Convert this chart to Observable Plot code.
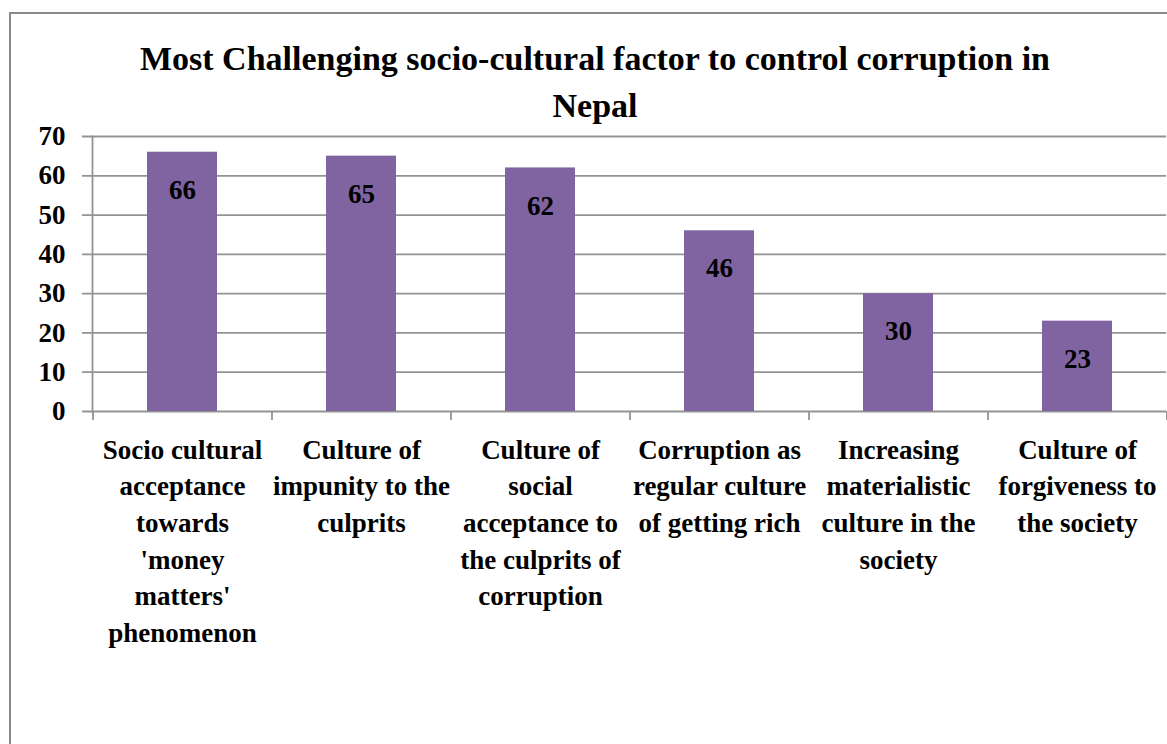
<!DOCTYPE html>
<html>
<head>
<meta charset="utf-8">
<script src="https://cdn.jsdelivr.net/npm/d3@7"></script>
<script src="https://cdn.jsdelivr.net/npm/@observablehq/plot@0.6"></script>
<style>
  html, body { margin: 0; padding: 0; background: #fff; }
  #wrap { position: relative; width: 1167px; height: 744px; overflow: hidden; }
  #border { position: absolute; left: 9px; top: 12px; width: 1200px; height: 800px;
            border-left: 2px solid #8a8a8a; border-top: 2px solid #8a8a8a; }
  #title { position: absolute; left: 20px; width: 1150px; top: 35px; text-align: center;
           font-family: "Liberation Serif", "Times New Roman", serif; font-weight: bold;
           font-size: 34px; line-height: 47px; color: #000; }
  #chart { position: absolute; left: 0; top: 0; }
</style>
</head>
<body>
<div id="wrap">
  <div id="border"></div>
  <div id="chart"></div>
  <div id="title">Most Challenging socio-cultural factor to control corruption in<br>Nepal</div>
</div>
<script>
const categories = [
  "Socio cultural\nacceptance\ntowards\n'money\nmatters'\nphenomenon",
  "Culture of\nimpunity to the\nculprits",
  "Culture of\nsocial\nacceptance to\nthe culprits of\ncorruption",
  "Corruption as\nregular culture\nof getting rich",
  "Increasing\nmaterialistic\nculture in the\nsociety",
  "Culture of\nforgiveness to\nthe society"
];
const values = [66, 65, 62, 46, 30, 23];
const yTicks = [0, 10, 20, 30, 40, 50, 60, 70];

const data = categories.map((c, i) => ({category: c, value: values[i]}));

const W = 1167, H = 744, mL = 92, mR = 1;
const step = (W - mL - mR) / categories.length;
const FONT = "'Liberation Serif', 'Times New Roman', serif";
const GRID = "#939393";

const chart = Plot.plot({
  width: W,
  height: H,
  marginTop: 136,
  marginBottom: 333,
  marginLeft: mL,
  marginRight: mR,
  style: {fontFamily: FONT, fontWeight: "bold", background: "transparent", color: "#000"},
  x: {domain: categories, paddingInner: 0.61, paddingOuter: 0.305, align: 0.5, label: null},
  y: {domain: [0, 70], label: null},
  marks: [
    Plot.ruleY(yTicks, {stroke: GRID, strokeWidth: 1.8, insetLeft: -10}),
    Plot.frame({anchor: "left", stroke: GRID, strokeWidth: 1.8}),
    Plot.ruleX(categories, {x: d => d, y1: 0, y2: 0, insetBottom: -9, dx: -step / 2, stroke: GRID, strokeWidth: 1.8}),
    Plot.ruleX([categories[categories.length - 1]], {x: d => d, y1: 0, y2: 0, insetBottom: -9, dx: step / 2, stroke: GRID, strokeWidth: 1.8}),
    Plot.barY(data, {x: "category", y: "value", fill: "#8064A2"}),
    Plot.text(data, {x: "category", y: "value", text: d => String(d.value), dy: 38, fontSize: 27, fontWeight: "bold", fill: "#000", fontFamily: FONT}),
    Plot.axisY(yTicks, {tickSize: 0, tickPadding: 27, fontSize: 27, fontWeight: "bold", fontFamily: FONT, label: null}),
    Plot.axisX({tickSize: 0, tickPadding: 21, fontSize: 27, fontWeight: "bold", fontFamily: FONT, lineHeight: 1.36, lineAnchor: "top", label: null})
  ]
});
document.getElementById("chart").appendChild(chart);
</script>
</body>
</html>
